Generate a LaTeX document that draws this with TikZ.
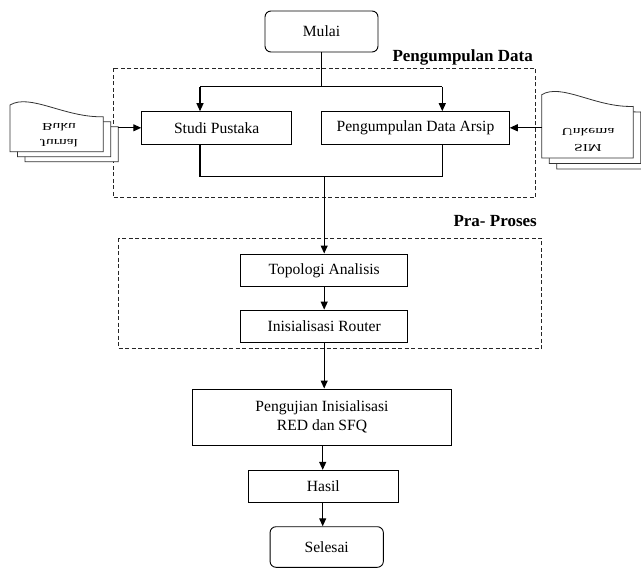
\documentclass[tikz,border=0pt]{standalone}
\usepackage{fontspec}
\setmainfont{Liberation Serif}
\usetikzlibrary{arrows.meta}
\newcommand\docshape[4]{%
  \draw[docline] (#1,#2+#4) -- (#1,#2) .. controls +(20,-12) and +(-38,1.3) .. +(#3,11.7) -- (#1+#3,#2+#4) -- cycle;}
\begin{document}
\begin{tikzpicture}[x=1pt,y=-1pt,
  box/.style={draw,line width=0.9pt,inner sep=0pt,font=\fontsize{15.6}{19}\selectfont,align=center},
  term/.style={box,rounded corners=6pt},
  conn/.style={line width=1.1pt},
  arr/.style={conn,-{Triangle[length=8pt,width=7pt]}},
  grp/.style={draw=black!85,line width=0.9pt,dash pattern=on 4pt off 2.5pt},
  lbl/.style={font=\fontsize{17}{20}\selectfont\bfseries,inner sep=0pt},
  docline/.style={draw=black!80,fill=white,line width=0.8pt},
  doctext/.style={font=\fontsize{15.6}{24}\selectfont,inner sep=0pt}]
\useasboundingbox[fill=white] (0,0) rectangle (641,568);

% group frames
\draw[grp] (113,68.3) rectangle (535.7,197.5);
\draw[grp] (118.3,238) rectangle (541.7,348.3);
\node[lbl,anchor=base east] (lab1) at (533,61.7) {Pengumpulan Data};
\node[lbl,anchor=base east] (lab2) at (537,226) {Pra- Proses};

% main nodes
\node[term,minimum width=113pt,minimum height=41pt] (mulai) at (321.5,31.5) {Mulai};
\node[box,minimum width=150pt,minimum height=32.3pt] (studi) at (216.7,127.8) {Studi Pustaka};
\node[box,minimum width=187.6pt,minimum height=32.3pt] (arsip) at (415.5,127.8) {Pengumpulan Data Arsip};
\node[box,minimum width=167pt,minimum height=32.7pt] (topo) at (324.2,270.3) {Topologi Analisis};
\node[box,minimum width=167pt,minimum height=32.3pt] (router) at (324.2,326.2) {Inisialisasi Router};
\node[box,minimum width=259.4pt,minimum height=56.7pt] (uji) at (322,417.3) {Pengujian Inisialisasi\\RED dan SFQ};
\node[box,minimum width=150pt,minimum height=32pt] (hasil) at (323.3,486.3) {Hasil};
\node[term,minimum width=113.3pt,minimum height=40.6pt] (selesai) at (326.7,547) {Selesai};

% documents (left)
\docshape{25}{115}{93.3}{46.7}
\docshape{17.5}{110}{93.3}{46.7}
\docshape{10}{105}{93.3}{46.7}
\node[doctext] (dokL) at (59,134.7) {\scalebox{1}[-0.68]{\begin{tabular}{@{}c@{}}Jurnal\\Buku\end{tabular}}};
% documents (right)
\docshape{556.7}{105.7}{91.6}{63.3}
\docshape{549.2}{100.2}{91.6}{63.3}
\docshape{541.7}{94.7}{91.6}{63.3}
\node[doctext] (dokR) at (588,139.7) {\scalebox{1}[-0.68]{\begin{tabular}{@{}c@{}}SIM\\Unkema\end{tabular}}};

% connectors
\coordinate (sL) at (200,86.7);
\coordinate (sR) at (442.3,86.7);
\coordinate (mL) at (200,176.7);
\coordinate (mR) at (442.3,176.7);
\coordinate (mC) at (324.2,176.7);
\coordinate (dl) at (118.3,127.8);
\coordinate (dr) at (541.7,127.8);
\coordinate (cx) at (322.7,0);

\draw[conn] (mulai.south) -- (mulai.south |- sL);
\draw[conn] (sL) -- (sR);
\draw[arr] (sL) -- (sL |- studi.north);
\draw[arr] (sR) -- (sR |- arsip.north);
\draw[conn] (mL |- studi.south) -- (mL) -- (mR) -- (mR |- arsip.south);
\draw[arr] (mC) -- (topo.north);
\draw[arr] (topo.south) -- (router.north);
\draw[arr] (router.south) -- (router.south |- uji.north);
\draw[arr] (cx |- uji.south) -- (cx |- hasil.north);
\draw[arr] (cx |- hasil.south) -- (cx |- selesai.north);
\draw[arr] (dl) -- (studi.west);
\draw[arr] (dr) -- (arsip.east);
\end{tikzpicture}
\end{document}
